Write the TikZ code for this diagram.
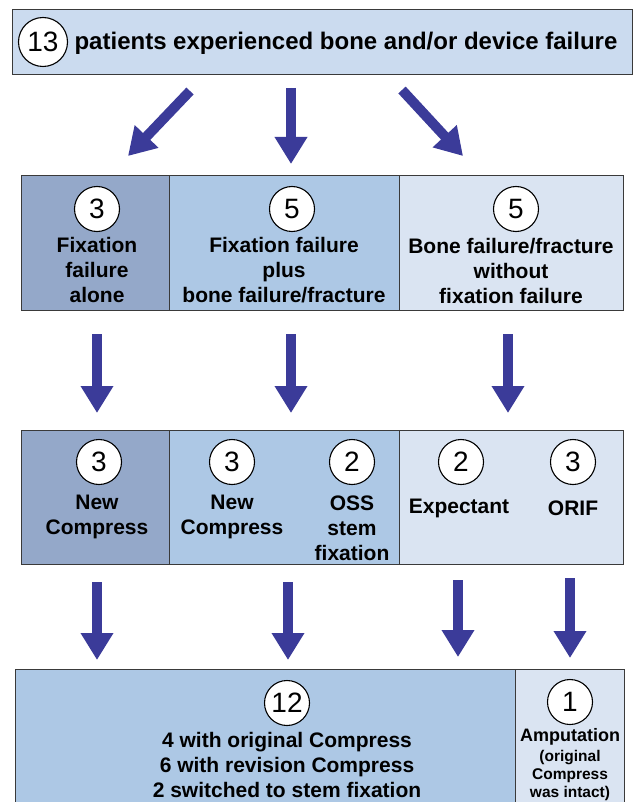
\documentclass[tikz,border=0pt]{standalone}
\usepackage{fontspec}
\setmainfont{Liberation Sans}
\usetikzlibrary{arrows.meta,positioning}

\definecolor{topfill}{HTML}{CBDBEF}
\definecolor{darkfill}{HTML}{94A8C9}
\definecolor{midfill}{HTML}{ADC8E5}
\definecolor{lightfill}{HTML}{DAE4F2}
\definecolor{arrowblue}{HTML}{3B3B99}
\definecolor{boxline}{HTML}{3A3A3A}

\begin{document}
\begin{tikzpicture}[x=1pt,y=-1pt,
	box/.style={draw=boxline, line width=0.9pt, inner sep=0pt, outer sep=0pt, anchor=north west},
	num/.style={circle, draw, line width=1.1pt, fill=white, minimum size=45pt, inner sep=0pt, font=\fontsize{28}{28}\selectfont},
	lbl/.style={align=center, inner sep=0pt, font=\bfseries\fontsize{21}{25}\selectfont},
	small/.style={align=center, inner sep=0pt, font=\bfseries\fontsize{15.5}{18}\selectfont},
	bigarrow/.style={draw=arrowblue, fill=arrowblue, line width=10pt, -{Triangle[width=31pt,length=27pt]}}]
	\useasboundingbox (0,0) rectangle (634,802);

	% top box
	\node[box, fill=topfill, minimum width=620pt, minimum height=65pt] (top) at (12,9) {};
	\node[num, minimum size=49pt] (n13) at (43,42) {13};
	\node[lbl, font=\bfseries\fontsize{24}{28}\selectfont] (toptxt) at (346,43) {patients experienced bone and/or device failure};

	% failure types
	\node[box, fill=darkfill, minimum width=148pt, minimum height=135pt] (fix) at (21,175) {};
	\node[box, fill=midfill, minimum width=230pt, minimum height=135pt] (both) at (169,175) {};
	\node[box, fill=lightfill, minimum width=224pt, minimum height=135pt] (bone) at (399,175) {};
	\node[num] (n3a) at (97,209) {3};
	\node[num] (n5a) at (292,209) {5};
	\node[num] (n5b) at (516,209) {5};
	\node[lbl] (fixtxt) at (97,270) {Fixation\\failure\\alone};
	\node[lbl] (bothtxt) at (284,270) {Fixation failure\\plus\\bone failure/fracture};
	\node[lbl] (bonetxt) at (511,271) {Bone failure/fracture\\without\\fixation failure};

	% treatments
	\node[box, fill=darkfill, minimum width=148pt, minimum height=134pt] (newa) at (21,430) {};
	\node[box, fill=midfill, minimum width=230pt, minimum height=134pt] (newb) at (169,430) {};
	\node[box, fill=lightfill, minimum width=224pt, minimum height=134pt] (treat) at (399,430) {};
	\node[num] (n3b) at (99,462) {3};
	\node[num] (n3c) at (232,462) {3};
	\node[num] (n2a) at (352,462) {2};
	\node[num] (n2b) at (461,462) {2};
	\node[num] (n3d) at (573,462) {3};
	\node[lbl] (newatxt) at (97,517) {New\\Compress};
	\node[lbl] (newbtxt) at (232,517) {New\\Compress};
	\node[lbl] (osstxt) at (352,528) {OSS\\stem\\fixation};
	\node[lbl] (exptxt) at (459,508) {Expectant};
	\node[lbl] (oriftxt) at (573,508) {ORIF};

	% outcome
	\node[box, fill=midfill, minimum width=500pt, minimum height=145pt] (res) at (15,669) {};
	\node[box, fill=lightfill, minimum width=109pt, minimum height=145pt] (amp) at (515,669) {};
	\node[num] (n12) at (287,703) {12};
	\node[num] (n1) at (570,702) {1};
	\node[lbl] (restxt) at (287,765) {4 with original Compress\\6 with revision Compress\\2 switched to stem fixation};
	\node[lbl, font=\bfseries\fontsize{18}{20}\selectfont] (amptxt) at (570,737) {Amputation};
	\node[small] (ampnote) at (570,775) {(original\\Compress\\was intact)};

	% arrows
	\coordinate (a1s) at (190,91);  \coordinate (a1e) at (128,156);
	\coordinate (a2s) at (291,88);  \coordinate (a2e) at (291,164);
	\coordinate (a3s) at (402,90);  \coordinate (a3e) at (463,156);
	\coordinate (b1s) at (97,334);  \coordinate (b1e) at (97,413);
	\coordinate (b2s) at (291,334); \coordinate (b2e) at (291,413);
	\coordinate (b3s) at (508,334); \coordinate (b3e) at (508,413);
	\coordinate (c1s) at (97,582);  \coordinate (c1e) at (97,660);
	\coordinate (c2s) at (288,582); \coordinate (c2e) at (288,660);
	\coordinate (c3s) at (458,580); \coordinate (c3e) at (458,657);
	\coordinate (c4s) at (570,578); \coordinate (c4e) at (570,658);

	\draw[bigarrow] (a1s) -- (a1e);
	\draw[bigarrow] (a2s) -- (a2e);
	\draw[bigarrow] (a3s) -- (a3e);
	\draw[bigarrow] (b1s) -- (b1e);
	\draw[bigarrow] (b2s) -- (b2e);
	\draw[bigarrow] (b3s) -- (b3e);
	\draw[bigarrow] (c1s) -- (c1e);
	\draw[bigarrow] (c2s) -- (c2e);
	\draw[bigarrow] (c3s) -- (c3e);
	\draw[bigarrow] (c4s) -- (c4e);
\end{tikzpicture}
\end{document}
